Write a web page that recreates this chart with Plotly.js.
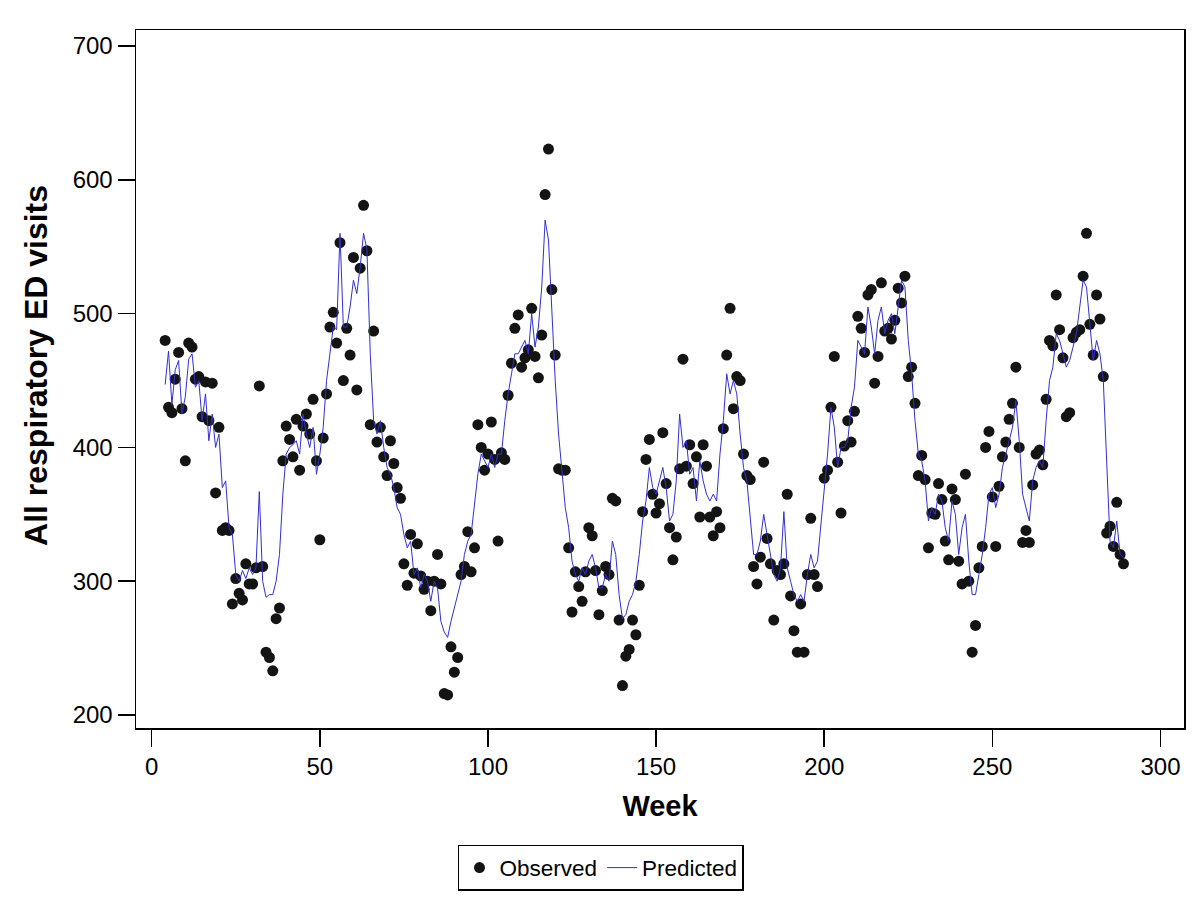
<!DOCTYPE html>
<html>
<head>
<meta charset="utf-8">
<script src="https://cdn.plot.ly/plotly-3.0.1.min.js"></script>
<style>html,body{margin:0;padding:0;background:#fff;}#chart{width:1200px;height:912px;}</style>
</head>
<body>
<div id="chart"></div>
<script>
// Observed weekly counts (week, value)
const obsWeeks = [4,5,6,7,8,9,10,11,12,13,14,15,16,17,18,19,20,21,22,23,24,25,26,27,28,29,30,31,32,33,34,35,36,37,38,39,40,41,42,43,44,45,46,47,48,49,50,51,52,53,54,55,56,57,58,59,60,61,62,63,64,65,66,67,68,69,70,71,72,73,74,75,76,77,78,79,80,81,82,83,84,85,86,87,88,89,90,91,92,93,94,95,96,97,98,99,100,101,102,103,104,105,106,107,108,109,110,111,112,113,114,115,116,117,118,119,120,121,122,123,124,125,126,127,128,129,130,131,132,133,134,135,136,137,138,139,140,141,142,143,144,145,146,147,148,149,150,151,152,153,154,155,156,157,158,159,160,161,162,163,164,165,166,167,168,169,170,171,172,173,174,175,176,177,178,179,180,181,182,183,184,185,186,187,188,189,190,191,192,193,194,195,196,197,198,200,201,202,203,204,205,206,207,208,209,210,211,212,213,214,215,216,217,218,219,220,221,222,223,224,225,226,227,228,229,230,231,232,233,234,235,236,237,238,239,240,241,242,243,244,245,246,247,248,249,250,251,252,253,254,255,256,257,258,259,260,261,262,263,264,265,266,267,268,269,270,271,272,273,274,275,276,277,278,279,280,281,282,283,284,285,286,287,288,289];
const obsValues = [480,430,426,451,471,429,390,478,475,451,453,423,449,420,448,366,415,338,340,338,283,302,291,286,313,298,298,310,446,311,247,243,233,272,280,390,416,406,393,421,383,416,425,410,436,390,331,407,440,490,501,478,553,450,489,469,542,443,534,581,547,417,487,404,415,393,379,405,388,370,362,313,297,335,306,328,304,294,300,278,300,320,298,216,215,251,232,243,305,311,337,307,325,417,400,383,395,419,391,330,396,391,439,463,489,499,460,467,473,504,468,452,484,589,623,518,469,384,383,383,325,277,307,296,285,307,340,334,308,275,293,311,305,362,360,271,222,244,249,271,260,297,352,391,406,365,351,358,411,373,340,316,333,384,466,386,402,373,393,348,402,386,348,334,352,340,414,469,504,429,453,450,395,379,376,311,298,318,389,332,313,271,308,305,313,365,289,263,247,283,247,305,347,305,296,377,383,430,468,389,351,401,420,404,427,498,489,471,514,518,448,468,523,487,489,481,495,519,508,528,453,460,433,379,394,376,325,351,350,373,361,330,316,369,361,315,298,380,300,247,267,310,326,400,412,363,326,371,393,404,421,433,460,400,329,338,329,372,395,398,387,436,480,476,514,488,467,423,426,482,486,488,528,560,492,469,514,496,453,336,341,326,359,320,313];

// Predicted values, one per week starting at week 4
const predStartWeek = 4;
const predValues = [
447,472,432,458,465,425,438,466,470,445,
450,420,440,405,425,400,410,370,375,340,
335,305,300,308,302,310,305,310,367,300,
288,290,290,300,320,365,395,400,402,405,
395,425,410,400,415,380,395,415,450,470,
490,488,560,490,490,505,525,515,535,560,
548,470,420,410,420,400,385,380,370,355,
350,335,325,330,305,310,295,305,300,285,
300,295,270,262,258,270,280,290,300,320,
330,335,360,380,395,390,385,395,385,395,
395,420,440,455,470,470,475,480,470,500,
475,490,520,570,555,500,450,410,385,355,
340,315,305,300,310,305,315,320,310,295,
295,305,300,330,320,290,272,275,285,290,
300,320,345,360,385,370,365,375,385,370,
345,350,375,425,400,405,380,385,360,390,
375,365,360,365,360,395,420,455,440,450,
440,410,385,375,345,320,320,330,350,335,
320,305,300,310,352,310,300,290,285,290,
285,305,320,310,315,340,370,395,430,415,
385,400,400,405,430,445,480,475,470,505,
490,470,495,505,485,495,500,485,505,525,
520,480,455,420,395,390,375,345,355,350,
365,360,340,330,360,350,320,340,350,315,
290,290,305,320,340,365,370,355,365,385,
395,405,415,435,405,365,355,345,375,385,
390,385,420,450,460,485,480,470,460,465,
475,485,505,525,520,495,465,480,470,450,
390,330,325,345,320,318];
const predWeeks = predValues.map((v, i) => predStartWeek + i);

const xTicks = [0, 50, 100, 150, 200, 250, 300];
const yTicks = [200, 300, 400, 500, 600, 700];
const xTitle = 'Week';
const yTitle = 'All respiratory ED visits';

const FONT = 'Liberation Sans, Arial, sans-serif';

const traces = [
  {
    x: obsWeeks, y: obsValues, name: 'Observed', type: 'scatter', mode: 'markers',
    marker: {color: '#141414', size: 11, symbol: 'circle'}
  },
  {
    x: predWeeks, y: predValues, name: 'Predicted', type: 'scatter', mode: 'lines',
    line: {color: 'rgb(48,48,210)', width: 1}
  }
];

const layout = {
  width: 1200, height: 912,
  margin: {l: 136, r: 16, t: 30, b: 184},
  paper_bgcolor: '#fff', plot_bgcolor: '#fff',
  font: {family: FONT, color: '#000', size: 22},
  showlegend: true,
  xaxis: {
    range: [-4.67, 307], tickvals: xTicks, ticktext: xTicks.map(String),
    ticks: 'outside', ticklen: 17, tickwidth: 1.5, tickcolor: '#000',
    showline: true, linecolor: '#000', linewidth: 1.5, mirror: true,
    showgrid: false, zeroline: false,
    tickfont: {family: FONT, size: 24, color: '#000'},
    title: {text: xTitle, font: {family: FONT, size: 29, color: '#000', weight: 'bold'}, standoff: 16}
  },
  yaxis: {
    range: [190.3, 712], tickvals: yTicks, ticktext: yTicks.map(String),
    ticks: 'outside', ticklen: 17, tickwidth: 1.5, tickcolor: '#000',
    showline: true, linecolor: '#000', linewidth: 1.5, mirror: true,
    showgrid: false, zeroline: false,
    tickfont: {family: FONT, size: 24, color: '#000'}
  },
  annotations: [{
    text: yTitle, textangle: -90, showarrow: false,
    xref: 'paper', yref: 'paper', x: -0.0955, xanchor: 'center', y: 0.52, yanchor: 'middle',
    font: {family: FONT, size: 32, color: '#000', weight: 'bold'}
  }],
  legend: {
    orientation: 'h', x: 0.4437, xanchor: 'center', y: -0.1676, yanchor: 'top',
    bordercolor: '#000', borderwidth: 1.5, bgcolor: '#fff', itemwidth: 30,
    font: {family: FONT, size: 22.5, color: '#000'}
  }
};

Plotly.newPlot('chart', traces, layout, {staticPlot: true, displayModeBar: false});
</script>
</body>
</html>
